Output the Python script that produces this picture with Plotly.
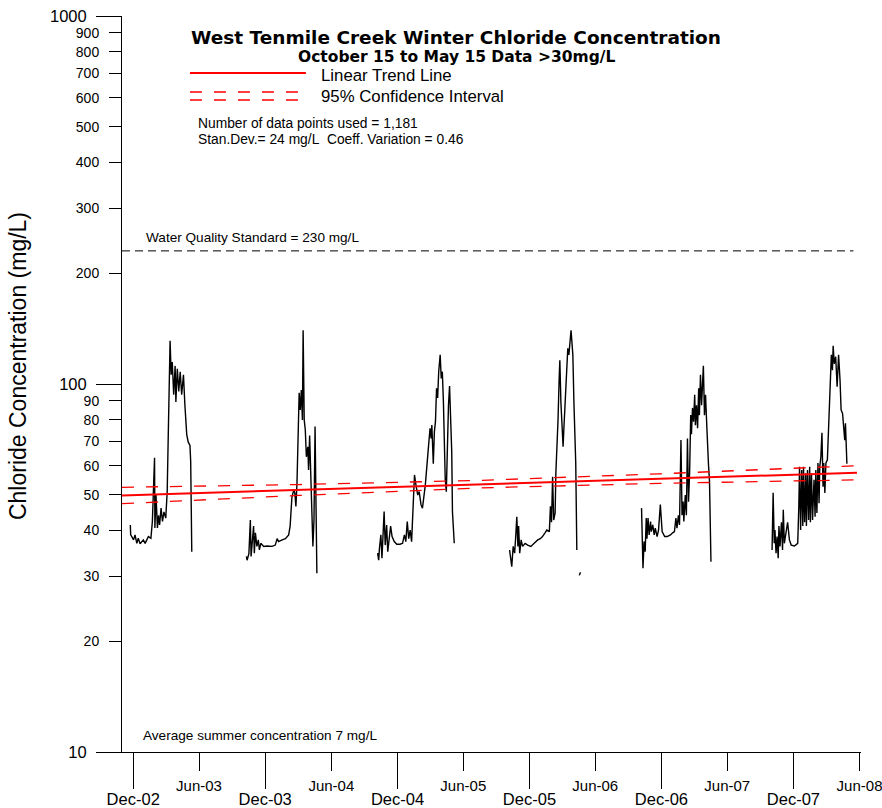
import plotly.graph_objects as go

# ---------------- data ----------------
s1_dates = ["2002-11-23","2002-11-24","2002-11-27","2002-12-02","2002-12-06","2002-12-11","2002-12-15","2002-12-20","2002-12-29",
            "2003-01-03","2003-01-12","2003-01-19","2003-01-23","2003-01-26","2003-01-29","2003-01-30","2003-02-02","2003-02-06",
            "2003-02-09","2003-02-12","2003-02-16","2003-02-20","2003-02-24","2003-03-01","2003-03-05","2003-03-08","2003-03-13",
            "2003-03-16","2003-03-19","2003-03-23","2003-03-27","2003-03-29","2003-04-02","2003-04-06","2003-04-10","2003-04-14",
            "2003-04-19","2003-04-23","2003-04-28","2003-05-02","2003-05-07","2003-05-09","2003-05-12"]
s1_vals = [41.4,38.9,38.5,37.7,38.9,36.9,38.1,36.8,37.7,36.9,38.5,38.1,42.3,52.2,63.0,40.6,49.9,40.6,44.0,41.4,46.0,42.3,
           44.9,43.2,50.9,73.0,131,106,114.7,93.5,112,89.4,110,95.5,108,93.5,106,87.5,73,69.6,68.1,61.6,35.0]

s2_dates = ["2003-10-10","2003-10-12","2003-10-17","2003-10-21","2003-10-23","2003-10-27","2003-10-30","2003-11-01","2003-11-04",
            "2003-11-08","2003-11-12","2003-11-15","2003-11-19","2003-11-27","2003-12-06","2003-12-20","2003-12-29","2004-01-03",
            "2004-01-07","2004-01-17","2004-01-26","2004-02-04","2004-02-08","2004-02-13","2004-02-18","2004-02-21","2004-02-24",
            "2004-02-27","2004-03-01","2004-03-04","2004-03-07","2004-03-10","2004-03-13","2004-03-15","2004-03-18","2004-03-21",
            "2004-03-24","2004-03-28","2004-03-30","2004-04-02","2004-04-05","2004-04-08","2004-04-11","2004-04-14","2004-04-17",
            "2004-04-19","2004-04-22"]
s2_vals = [34.0,33.2,34.6,42.7,34.0,38.5,41.1,34.7,39.4,36.2,37.7,35.4,36.9,36.2,36.3,36.2,36.5,38.0,37.3,37.7,38.0,38.9,
           41.1,49.3,51.5,50.6,46.5,53.9,79.8,94.7,85.0,96.3,79.8,140,79.8,75.0,63.4,67.5,58.4,72.4,57.2,45.5,36.2,42.7,
           76.6,52.6,30.6]

s3_dates = ["2004-10-07","2004-10-10","2004-10-12","2004-10-16","2004-10-19","2004-10-21","2004-10-25","2004-10-28","2004-11-01",
            "2004-11-04","2004-11-09","2004-11-12","2004-11-16","2004-11-22","2004-11-29","2004-12-08","2004-12-15","2004-12-20",
            "2004-12-24","2004-12-28","2005-01-01","2005-01-05","2005-01-09","2005-01-14","2005-01-17","2005-01-21","2005-01-26",
            "2005-01-30","2005-02-04","2005-02-08","2005-02-12","2005-02-16","2005-02-19","2005-02-22","2005-02-25","2005-03-01",
            "2005-03-04","2005-03-06","2005-03-10","2005-03-13","2005-03-16","2005-03-19","2005-03-22","2005-03-25","2005-03-29",
            "2005-04-01","2005-04-04","2005-04-07","2005-04-09","2005-04-12","2005-04-15","2005-04-18","2005-04-21","2005-04-24",
            "2005-04-27","2005-04-30","2005-05-02","2005-05-05","2005-05-07"]
s3_vals = [34.7,33.2,35.7,38.9,33.6,37.3,45.0,36.5,41.4,35.0,39.7,41.1,38.5,37.3,36.7,36.7,36.9,38.9,37.3,42.3,38.0,40.1,
           37.3,46.0,56.6,53.2,49.9,51.0,47.0,46.0,48.9,53.2,57.8,61.6,68.1,75.8,71.1,77.3,60.7,74.1,79.0,97.3,91.6,108,
           120,103.6,108,89.4,74.1,55.3,51.0,68.1,87.5,98.7,84.1,65.6,45.0,38.0,36.9]

s4_dates = ["2005-10-07","2005-10-10","2005-10-13","2005-10-17","2005-10-21","2005-10-24","2005-10-27","2005-10-30","2005-11-01",
            "2005-11-04","2005-11-08","2005-11-12","2005-11-19","2005-11-26","2005-12-05","2005-12-14","2005-12-24","2005-12-31",
            "2006-01-06","2006-01-13","2006-01-18","2006-01-25","2006-01-28","2006-01-31","2006-02-03","2006-02-06","2006-02-10",
            "2006-02-12","2006-02-15","2006-02-18","2006-02-21","2006-02-23","2006-02-26","2006-03-01","2006-03-04","2006-03-06",
            "2006-03-09","2006-03-12","2006-03-15","2006-03-17","2006-03-20","2006-03-23","2006-03-26","2006-03-28","2006-03-31",
            "2006-04-03","2006-04-06","2006-04-08","2006-04-11"]
s4_vals = [35.4,33.2,31.9,36.2,34.7,38.5,43.6,36.2,41.1,34.7,37.7,36.2,36.9,36.5,36.2,36.9,37.7,38.0,38.5,39.4,40.1,39.7,
           46.5,42.1,56.0,42.7,44.6,57.2,64.9,79.8,102.5,116,88.9,76.6,67.5,75.0,88.9,102.5,116,125,120,131.7,140,131.7,
           120,88.9,68.8,61.0,35.4]
s4b_dates = ["2006-04-18","2006-04-21"]
s4b_vals = [30.2,30.8]

s5_dates = ["2006-10-07","2006-10-09","2006-10-11","2006-10-14","2006-10-17","2006-10-20","2006-10-22","2006-10-25","2006-10-28",
            "2006-11-01","2006-11-03","2006-11-07","2006-11-11","2006-11-14","2006-11-19","2006-11-23","2006-11-28","2006-12-03",
            "2006-12-10","2006-12-17","2006-12-26","2007-01-01","2007-01-06","2007-01-10","2007-01-13","2007-01-17","2007-01-20",
            "2007-01-24","2007-01-27","2007-01-30","2007-02-01","2007-02-05","2007-02-08","2007-02-11","2007-02-14","2007-02-17",
            "2007-02-20","2007-02-22","2007-02-25","2007-02-28","2007-03-03","2007-03-05","2007-03-08","2007-03-11","2007-03-14",
            "2007-03-16","2007-03-19","2007-03-22","2007-03-25","2007-03-27","2007-03-30","2007-04-02","2007-04-05","2007-04-07",
            "2007-04-10","2007-04-13","2007-04-17"]
s5_vals = [46.0,33.6,31.6,37.3,35.0,43.2,38.0,43.2,38.9,42.3,39.7,41.4,38.9,40.6,38.5,40.1,47.0,39.7,38.5,38.5,38.9,39.4,
           39.7,43.2,40.6,44.0,41.4,70.4,44.0,47.9,42.3,49.9,44.0,71.1,47.9,57.8,82.3,73.0,86.1,79.0,93.5,77.3,87.5,75.8,
           97.3,82.3,106,87.5,97.3,112,82.3,93.5,79.0,66.8,60.7,54.4,32.9]

s6_dates = ["2007-10-03","2007-10-06","2007-10-09","2007-10-11","2007-10-14","2007-10-17","2007-10-20","2007-10-22","2007-10-25",
            "2007-10-29","2007-11-01","2007-11-03","2007-11-06","2007-11-11","2007-11-15","2007-11-20","2007-11-25","2007-12-04",
            "2007-12-13","2007-12-16","2007-12-18","2007-12-21","2007-12-24","2007-12-27","2007-12-29","2008-01-01","2008-01-04",
            "2008-01-06","2008-01-09","2008-01-12","2008-01-15","2008-01-17","2008-01-20","2008-01-23","2008-01-27","2008-01-30",
            "2008-02-01","2008-02-04","2008-02-07","2008-02-10","2008-02-12","2008-02-15","2008-02-18","2008-02-21","2008-02-23",
            "2008-02-26","2008-02-29","2008-03-04","2008-03-09","2008-03-13","2008-03-15","2008-03-18","2008-03-20","2008-03-23",
            "2008-03-27","2008-03-31","2008-04-04","2008-04-08","2008-04-11","2008-04-15","2008-04-19","2008-04-21","2008-04-23",
            "2008-04-25","2008-04-27"]
s6_vals = [35.4,50.6,36.9,40.1,34.7,38.5,33.6,41.1,36.2,42.1,35.4,45.5,36.9,40.1,42.1,37.7,36.5,36.3,36.9,46.5,59.6,40.1,
           58.4,41.1,59.6,42.1,57.2,41.1,58.4,42.7,59.6,42.1,57.2,42.7,54.9,43.6,58.4,44.6,61.0,47.4,59.6,63.4,73.7,52.6,
           61.0,50.6,61.0,62.2,83.2,107,120,109,127,113.5,118.6,98.3,120,102.5,85.0,83.2,75.0,70.4,78.2,63.4,60.7]

seasons_dates = [s1_dates, s2_dates, s3_dates, s4_dates, s4b_dates, s5_dates, s6_dates]
seasons_vals = [s1_vals, s2_vals, s3_vals, s4_vals, s4b_vals, s5_vals, s6_vals]

trend_dates = ["2002-10-31", "2008-05-25"]
trend_vals = [49.8, 57.4]
ci_dates = ["2002-10-31", "2004-03-04", "2005-07-15", "2006-11-26", "2008-05-25"]
ci_upper = [52.4, 53.3, 54.7, 57.0, 60.0]
ci_lower = [47.3, 49.8, 52.2, 53.7, 54.9]

wqs_value = 230
wqs_dates = ["2002-10-31", "2008-05-15"]

dec_ticks = ["2002-12-01","2003-12-01","2004-12-01","2005-12-01","2006-12-01","2007-12-01"]
dec_labels = ["Dec-02","Dec-03","Dec-04","Dec-05","Dec-06","Dec-07"]
jun_ticks = ["2003-06-01","2004-06-01","2005-06-01","2006-06-01","2007-06-01","2008-06-01"]
jun_labels = ["Jun-03","Jun-04","Jun-05","Jun-06","Jun-07","Jun-08"]
y_major = [10, 100, 1000]
y_minor = [20, 30, 40, 50, 60, 70, 80, 90, 200, 300, 400, 500, 600, 700, 800, 900]

# ---------------- layout geometry ----------------
W, H = 882, 808
L, R, T, B = 122, 20.6, 16, 56
PW, PH = W - L - R, H - T - B
x_range = ["2002-10-31", "2008-06-05"]

def px(xp):
    return (xp - L) / PW

def py(yp):
    return (T + PH - yp) / PH

FONT = "Liberation Sans, Arial, sans-serif"
TFONT = "DejaVu Sans, Open Sans, sans-serif"

# concatenate seasons with gaps
xs, ys = [], []
for d, v in zip(seasons_dates, seasons_vals):
    xs += d + [None]
    ys += v + [None]

fig = go.Figure()
fig.add_trace(go.Scatter(x=xs, y=ys, mode="lines", line=dict(color="black", width=1.4),
                         connectgaps=False, hoverinfo="skip", showlegend=False))
fig.add_trace(go.Scatter(x=wqs_dates, y=[wqs_value, wqs_value], mode="lines",
                         line=dict(color="black", width=1, dash="8px,5px"), showlegend=False))
fig.add_trace(go.Scatter(x=trend_dates, y=trend_vals, mode="lines",
                         line=dict(color="red", width=2), showlegend=False))
fig.add_trace(go.Scatter(x=ci_dates, y=ci_upper, mode="lines",
                         line=dict(color="red", width=1.3, dash="12px,12px"), showlegend=False))
fig.add_trace(go.Scatter(x=ci_dates, y=ci_lower, mode="lines",
                         line=dict(color="red", width=1.3, dash="12px,12px"), showlegend=False))
# empty trace on the secondary (label-only) axes so they render
fig.add_trace(go.Scatter(x=[None], y=[None], xaxis="x2", yaxis="y2", showlegend=False, hoverinfo="skip"))

fig.update_layout(
    width=W, height=H,
    margin=dict(l=L, r=R, t=T, b=B, autoexpand=False),
    paper_bgcolor="white", plot_bgcolor="white",
    font=dict(family=FONT, color="black"),
    showlegend=False,
    xaxis=dict(type="date", range=x_range, tickmode="array", tickvals=dec_ticks, ticktext=dec_labels,
               ticks="outside", ticklen=36, tickwidth=1, tickcolor="black", automargin=False,
               showline=True, linecolor="black", linewidth=1, showgrid=False, zeroline=False,
               tickfont=dict(size=16.5, family=FONT), ticklabelstandoff=-4, ticklabeloverflow="allow"),
    xaxis2=dict(type="date", range=x_range, overlaying="x", anchor="y", side="bottom",
                tickmode="array", tickvals=jun_ticks, ticktext=jun_labels, automargin=False,
                ticks="outside", ticklen=18, tickwidth=1, tickcolor="black",
                showline=False, showgrid=False, zeroline=False,
                tickfont=dict(size=15, family=FONT), ticklabelstandoff=2, ticklabeloverflow="allow"),
    yaxis=dict(type="log", range=[1, 3], tickmode="array", tickvals=y_major,
               ticktext=[str(v) for v in y_major], automargin=False,
               ticks="outside", ticklen=25, tickwidth=1, tickcolor="black",
               showline=True, linecolor="black", linewidth=1, showgrid=False, zeroline=False,
               tickfont=dict(size=16.5, family=FONT), ticklabelstandoff=6),
    yaxis2=dict(type="log", range=[1, 3], overlaying="y", anchor="x", side="left",
                tickmode="array", tickvals=y_minor, ticktext=[str(v) for v in y_minor], automargin=False,
                ticks="outside", ticklen=12, tickwidth=1, tickcolor="black",
                showline=False, showgrid=False, zeroline=False,
                tickfont=dict(size=14, family=FONT), ticklabelstandoff=7),
)

ann = []
ann.append(dict(text="<b>West Tenmile Creek Winter Chloride Concentration</b>", x=px(456), y=py(37.5),
                xanchor="center", yanchor="middle", font=dict(family=TFONT, size=18.5)))
ann.append(dict(text="<b>October 15 to May 15 Data &gt;30mg/L</b>", x=px(457), y=py(57),
                xanchor="center", yanchor="middle", font=dict(family=TFONT, size=15.5)))
ann.append(dict(text="Linear Trend Line", x=px(319), y=py(75), xanchor="left", yanchor="middle",
                font=dict(size=16.8)))
ann.append(dict(text="95% Confidence Interval", x=px(319), y=py(97), xanchor="left", yanchor="middle",
                font=dict(size=16.8)))
ann.append(dict(text="Number of data points used = 1,181", x=px(196), y=py(124), xanchor="left", yanchor="middle",
                font=dict(size=13.8)))
ann.append(dict(text="Stan.Dev.= 24 mg/L\u00a0 Coeff. Variation = 0.46", x=px(196), y=py(139), xanchor="left",
                yanchor="middle", font=dict(size=13.8)))
ann.append(dict(text="Water Quality Standard = 230 mg/L", x=px(144), y=py(237), xanchor="left", yanchor="middle",
                font=dict(size=13.6)))
ann.append(dict(text="Average summer concentration 7 mg/L", x=px(141), y=py(735), xanchor="left", yanchor="middle",
                font=dict(size=13.6)))
ann.append(dict(text="Chloride Concentration (mg/L)", x=px(18), y=py(366), xanchor="center", yanchor="middle",
                textangle=-90, font=dict(size=23)))
for a in ann:
    a.update(xref="paper", yref="paper", showarrow=False)
fig.update_layout(annotations=ann)

shapes = [
    dict(type="line", xref="paper", yref="paper", x0=px(190), x1=px(306), y0=py(73), y1=py(73),
         line=dict(color="red", width=2)),
    dict(type="line", xref="paper", yref="paper", x0=px(190), x1=px(300), y0=py(92), y1=py(92),
         line=dict(color="red", width=1.3, dash="12px,12px")),
    dict(type="line", xref="paper", yref="paper", x0=px(190), x1=px(300), y0=py(100), y1=py(100),
         line=dict(color="red", width=1.3, dash="12px,12px")),
]
fig.update_layout(shapes=shapes)

fig.write_html("out.html")
